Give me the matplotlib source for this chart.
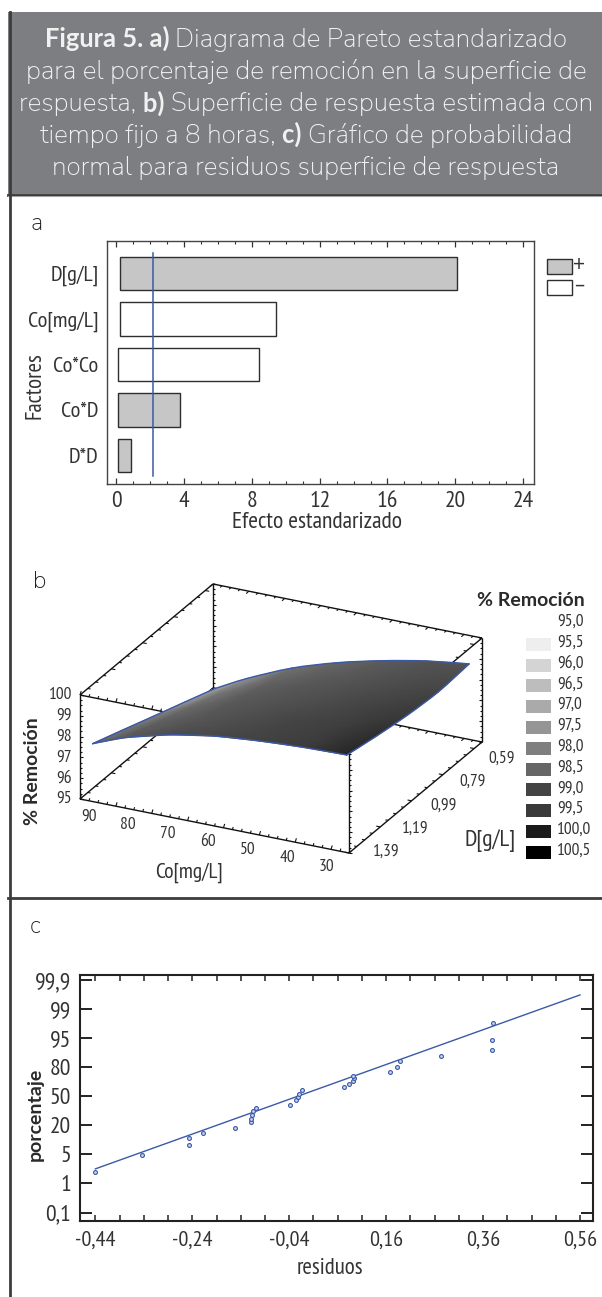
import numpy as np
import matplotlib
matplotlib.use('Agg')
import matplotlib.pyplot as plt
from matplotlib.collections import LineCollection
from matplotlib.colors import LinearSegmentedColormap
from matplotlib.patches import PathPatch, Rectangle
from matplotlib.path import Path

W, H = 602, 1297
NARROW = ['PT Sans Narrow', 'Archivo Narrow', 'DejaVu Sans']
SOFT = ['Nunito Sans', 'Mulish', 'Lato', 'DejaVu Sans']
STRONG = ['Lato', 'DejaVu Sans']
BLUE = '#3b59a8'

# panel a
factores = ['D[g/L]', 'Co[mg/L]', 'Co*Co', 'Co*D', 'D*D']
efecto = [20.1, 9.4, 8.4, 3.75, 0.85]
inicio = [0.2, 0.2, 0.1, 0.1, 0.1]
signo = ['+', '-', '-', '+', '+']
limite = 2.14
ticks_a = [0, 4, 8, 12, 16, 20, 24]

# panel b
co_sup = [87.2, 80, 70, 60, 50, 40, 30.5]
d_sup = [1.39, 1.206, 1.022, 0.838, 0.654]
remocion = [
    [97.78, 98.38, 98.95, 99.32, 99.52, 99.64, 99.69],
    [97.22, 97.84, 98.47, 98.90, 99.16, 99.32, 99.40],
    [96.65, 97.30, 98.00, 98.50, 98.83, 99.06, 99.17],
    [96.09, 96.79, 97.59, 98.17, 98.57, 98.88, 99.05],
    [95.52, 96.32, 97.25, 97.94, 98.47, 98.89, 99.16],
]
# shade seen on the surface, on the scale of the legend
tono = [
    [98.4, 98.7, 98.85, 98.95, 99.1, 99.4, 99.8],
    [98.2, 98.6, 98.75, 98.85, 99.0, 99.3, 99.7],
    [98.0, 98.45, 98.7, 98.8, 98.9, 99.1, 99.5],
    [97.4, 98.2, 98.6, 98.7, 98.8, 98.9, 99.0],
    [97.3, 97.6, 98.3, 98.5, 98.65, 98.75, 98.8],
]
niveles = [95.0, 95.5, 96.0, 96.5, 97.0, 97.5, 98.0, 98.5, 99.0, 99.5, 100.0, 100.5]
grises = ['#ffffff', '#eeeeee', '#d4d4d4', '#bdbdbd', '#aaaaaa', '#959595',
          '#7f7f7f', '#666666', '#444444', '#3a3a3a', '#1a1a1a', '#000000']
co_ticks = [90, 80, 70, 60, 50, 40, 30]
d_ticks = ['1,39', '1,19', '0,99', '0,79', '0,59']
z_ticks = [95, 96, 97, 98, 99, 100]

# panel c, y is the position on the evenly spaced probability ticks
prob_labels = ['0,1', '1', '5', '20', '50', '80', '95', '99', '99,9']
res_ticks = [-0.44, -0.24, -0.04, 0.16, 0.36, 0.56]
residuos = [-0.441, -0.344, -0.2475, -0.2475, -0.218, -0.151, -0.1195, -0.119, -0.116, -0.115,
            -0.108, -0.0384, -0.0267, -0.022, -0.020, -0.013, 0.0724, 0.0833, 0.0916, 0.093,
            0.0916, 0.1673, 0.1817, 0.188, 0.2732, 0.3778, 0.3778, 0.3798]
posicion = [1.409, 1.994, 2.317, 2.568, 2.75, 2.912, 3.108, 3.228, 3.341, 3.503,
            3.599, 3.692, 3.864, 3.977, 4.08, 4.218, 4.321, 4.424, 4.517, 4.63,
            4.709, 4.837, 5.009, 5.205, 5.387, 5.593, 5.937, 6.511]
recta_x = [-0.44, 0.56]
recta_y = [1.502, 7.484]

titulo = [
    [('Figura 5. a) ', True), ('Diagrama de Pareto estandarizado', False)],
    [('para el porcentaje de remoción en la superficie de', False)],
    [('respuesta, ', False), ('b) ', True), ('Superficie de respuesta estimada con', False)],
    [('tiempo fijo a 8 horas, ', False), ('c) ', True), ('Gráfico de probabilidad', False)],
    [('normal para residuos superficie de respuesta', False)],
]


def px_axes(left, top, right, bottom):
    return fig.add_axes([left / W, 1 - bottom / H, (right - left) / W, (bottom - top) / H])


def comma(v):
    return ('%.2f' % v).replace('.', ',')


fig = plt.figure(figsize=(W / 100, H / 100), dpi=100)

# page: everything in this axes is in pixels
bg = fig.add_axes([0, 0, 1, 1])
bg.set_xlim(0, W)
bg.set_ylim(H, 0)
bg.axis('off')
bg.add_patch(Rectangle((8, 12), W - 8, 182, fc='#7d7e82', ec='none'))
bg.plot([8, W], [194.5, 194.5], color='#333333', lw=2)
bg.plot([8, W], [196, 196], color='#a8a8a8', lw=0.8)
bg.plot([9.5, 9.5], [12, H], color='#3c3c3c', lw=2)
bg.plot([8, W], [898, 898], color='#3c3c3c', lw=2)

baselines = [46.7, 79, 111.5, 143, 175]
renderer = fig.canvas.get_renderer()
for line, y in zip(titulo, baselines):
    parts = []
    widths = []
    for s, bold in line:
        style = dict(family=STRONG, fontsize=18.4, weight='bold') if bold else dict(family=SOFT, fontsize=18.9)
        parts.append(bg.text(0, y, s, color='#f1f1f1', va='baseline', ha='left', **style))
        # trailing spaces do not count in the extent, so measure with no-break ones
        probe = bg.text(0, y, s.replace(' ', '\u00a0'), **style)
        widths.append(probe.get_window_extent(renderer).width)
        probe.remove()
    x = 306 - sum(widths) / 2
    for t, w in zip(parts, widths):
        t.set_x(x)
        x += w

for s, x, y in [('a', 31, 230), ('b', 33, 588), ('c', 30, 933)]:
    bg.text(x, y, s, family=SOFT, fontsize=17, color='#222222', va='baseline')

# a) pareto
ax = px_axes(107, 241, 533.5, 484)
pos = np.arange(len(factores))
colores = ['#c6c6c6' if s == '+' else 'white' for s in signo]
ax.barh(pos, np.array(efecto) - np.array(inicio), left=inicio, height=0.74,
        color=colores, edgecolor='#2e2e2e', linewidth=1.0)
ax.plot([limite, limite], [-0.45, 4.45], color=BLUE, lw=1.1)
ax.set_xlim(-0.56, 24.62)
ax.set_ylim(4.63, -0.714)
ax.set_yticks(pos)
ax.set_yticklabels(factores, family=NARROW, fontsize=16, color='#333333')
ax.set_xticks(ticks_a)
ax.set_xticklabels([str(t) for t in ticks_a], family=NARROW, fontsize=17, color='#333333')
ax.set_xticks(np.arange(0, 25), minor=True)
ax.tick_params(axis='x', which='major', direction='in', top=True, length=4.5, width=0.9, pad=5,
               color='#333333')
ax.tick_params(axis='x', which='minor', direction='in', top=True, length=2.2, width=0.8,
               color='#333333')
ax.tick_params(axis='y', length=0, pad=6)
for sp in ax.spines.values():
    sp.set_color('#444444')
    sp.set_linewidth(1.0)
bg.text(317, 523, 'Efecto estandarizado', family=NARROW, fontsize=17, color='#333333',
        ha='center', va='center')
bg.text(35, 386, 'Factores', family=NARROW, fontsize=16.5, color='#333333', rotation=90,
        ha='center', va='center')
for y, fc, s in [(259, '#c6c6c6', '+'), (280, 'white', '–')]:
    bg.add_patch(Rectangle((546.5, y), 25, 15, fc=fc, ec='#2e2e2e', lw=1.0))
    bg.text(579, y + 6, s, family=STRONG, fontsize=15, color='#333333', ha='center', va='center')


# b) surface, the same oblique projection as the box of the original
def proj(co, d, r):
    u = (90 - np.asarray(co, dtype=float)) / 60
    v = (1.39 - np.asarray(d, dtype=float)) / 0.8
    w = (np.asarray(r, dtype=float) - 95) / 5
    return 80 + 269 * u + 133 * v, 799 + 54 * u - 111 * v - 104 * w


def marks(p0, p1, n, dx, dy, each=4):
    p0, p1 = np.array(p0, dtype=float), np.array(p1, dtype=float)
    segs = []
    for i in range(n + 1):
        p = p0 + (p1 - p0) * i / n
        k = 1.5 if i % each == 0 else 1.0
        segs.append([p, p + np.array([dx, dy]) * k])
    return segs


def rounded(xs, ys):
    # bezier path through the grid nodes of one side of the surface
    pts = np.column_stack([xs, ys])
    verts = [pts[0]]
    for i in range(len(pts) - 1):
        prev = pts[max(i - 1, 0)]
        nxt = pts[min(i + 2, len(pts) - 1)]
        verts += [pts[i] + (pts[i + 1] - prev) / 6, pts[i + 1] - (nxt - pts[i]) / 6, pts[i + 1]]
    return Path(verts, [Path.MOVETO] + [Path.CURVE4] * (len(verts) - 1))


corner = {}
for name, c, d, r in [('flb', 90, 1.39, 95), ('frb', 30, 1.39, 95), ('brb', 30, 0.59, 95), ('blb', 90, 0.59, 95),
                      ('flt', 90, 1.39, 100), ('frt', 30, 1.39, 100), ('brt', 30, 0.59, 100), ('blt', 90, 0.59, 100)]:
    corner[name] = proj(c, d, r)

edges = ['flb frb', 'frb brb', 'brb blb', 'blb flb', 'flt frt', 'frt brt', 'brt blt', 'blt flt',
         'flb flt', 'frb frt', 'brb brt', 'blb blt']
segs = [[corner[e.split()[0]], corner[e.split()[1]]] for e in edges]
bg.add_collection(LineCollection(segs, colors='#111111', linewidths=1.0, zorder=2))

tk = []
tk += marks(corner['flb'], corner['frb'], 30, 0.8, -2.6)
tk += marks(corner['flt'], corner['frt'], 30, 0.8, -2.6)
tk += marks(corner['blb'], corner['brb'], 30, -1.8, 1.6)
tk += marks(corner['blt'], corner['brt'], 30, -1.8, 1.6)
tk += marks(corner['flt'], corner['blt'], 17, 2.7, 0.5)
tk += marks(corner['flb'], corner['blb'], 17, 2.7, 0.5)
tk += marks(corner['frb'], corner['brb'], 17, -2.7, -0.5)
tk += marks(corner['frt'], corner['brt'], 17, -2.7, -0.5)
tk += marks(corner['flb'], corner['flt'], 20, 2, 0, each=4)
tk += marks(corner['blb'], corner['blt'], 20, 2, 0, each=4)
tk += marks(corner['frb'], corner['frt'], 20, 2, 0, each=4)
tk += marks(corner['brb'], corner['brt'], 20, -2, 0, each=4)
bg.add_collection(LineCollection(tk, colors='#111111', linewidths=0.8, zorder=2))

cmap = LinearSegmentedColormap.from_list(
    'remocion', [((n - 95.0) / 5.5, g) for n, g in zip(niveles, grises)])
cc, dd = np.meshgrid(co_sup, d_sup)
sx, sy = proj(cc, dd, np.array(remocion))
bg.pcolormesh(sx, sy, np.array(tono), shading='gouraud', cmap=cmap, vmin=95.0, vmax=100.5, zorder=3)
for xs, ys in [(sx[0], sy[0]), (sx[:, -1], sy[:, -1]), (sx[-1], sy[-1]), (sx[:, 0], sy[:, 0])]:
    bg.add_patch(PathPatch(rounded(xs, ys), fc='none', ec=BLUE, lw=1.0, zorder=4, capstyle='round'))

for z in z_ticks:
    _, y = proj(90, 1.39, z)
    bg.text(72, y, str(z), family=NARROW, fontsize=12.5, color='#333333', ha='right', va='center')
for i, c in enumerate(co_ticks):
    bg.text(88.5 + 39.7 * i, 817 + 8.3 * i, str(c), family=NARROW, fontsize=12.5, color='#333333',
            ha='center', va='center')
for i, s in enumerate(d_ticks):
    bg.text(386 + 28.8 * i, 852 - 23.3 * i, s, family=NARROW, fontsize=12.5, color='#333333',
            ha='center', va='center')
bg.text(189, 873, 'Co[mg/L]', family=NARROW, fontsize=15.5, color='#333333', ha='center', va='center')
bg.text(490, 841, 'D[g/L]', family=NARROW, fontsize=17, color='#333333', ha='center', va='center')
bg.text(33, 771, '% Remoción', family=STRONG, fontsize=14, weight='bold', color='#2a2a2a', rotation=90,
        ha='center', va='center')
bg.text(585, 600, '% Remoción', family=STRONG, fontsize=14, weight='bold', color='#2a2a2a',
        ha='right', va='center')
for i, (n, g) in enumerate(zip(niveles, grises)):
    y = 622 + 20.8 * i
    bg.text(557, y, ('%.1f' % n).replace('.', ','), family=NARROW, fontsize=12.5,
            color='#333333', ha='left', va='center')
    if i > 0:
        bg.add_patch(Rectangle((526, y - 5), 25, 13, fc=g, ec='none'))

# c) normal probability
ax = px_axes(79.6, 975, 592.7, 1221)
ax.plot(recta_x, recta_y, color=BLUE, lw=1.0)
ax.plot(residuos, posicion, ls='none', marker='o', ms=2.8, mfc='#c9d2ea', mec=BLUE, mew=0.8)
ax.set_xlim(-0.4726, 0.5862)
ax.set_ylim(-0.292, 8.17)
ax.set_yticks(np.arange(len(prob_labels)))
ax.set_yticklabels(prob_labels, family=NARROW, fontsize=17, color='#333333')
ax.set_xticks(res_ticks)
ax.set_xticklabels([comma(t) for t in res_ticks], family=NARROW, fontsize=16, color='#333333')
ax.set_xticks(np.arange(-0.44, 0.561, 0.05), minor=True)
ax.tick_params(axis='x', which='both', direction='in', top=True, length=4.2, width=1.1, pad=7,
               color='#222222')
ax.tick_params(axis='y', direction='in', right=True, length=8.5, width=1.4, pad=6, color='#222222')
for sp in ax.spines.values():
    sp.set_color('#222222')
    sp.set_linewidth(1.5)
bg.text(329.6, 1268, 'residuos', family=NARROW, fontsize=16.5, color='#333333', ha='center', va='center')
bg.text(35, 1114, 'porcentaje', family=STRONG, fontsize=14, weight='bold', color='#2a2a2a', rotation=90,
        ha='center', va='center')

fig.savefig('out.png', dpi=100, facecolor='white')
